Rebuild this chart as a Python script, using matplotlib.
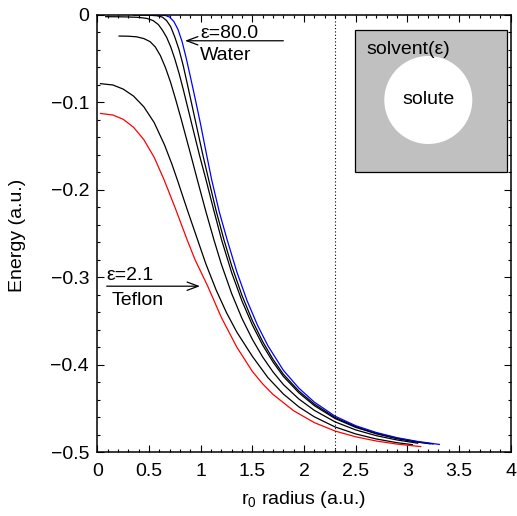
import matplotlib
matplotlib.use("Agg")
import matplotlib.pyplot as plt
from matplotlib.patches import Rectangle, Ellipse
from matplotlib.ticker import MultipleLocator

plt.rcParams['font.family'] = ['Liberation Sans', 'DejaVu Sans']
plt.rcParams['mathtext.fontset'] = 'custom'
plt.rcParams['mathtext.rm'] = 'Liberation Sans'
plt.rcParams['mathtext.it'] = 'Liberation Sans:italic'

# ---- data ----
red_x = [0.03, 0.15, 0.25, 0.35, 0.45, 0.55, 0.645, 0.75, 0.87, 0.945, 1.068, 1.2, 1.35, 1.5, 1.6, 1.7, 1.9, 2.1, 2.3, 2.5, 2.7, 2.9, 3.13]
red_y = [-0.113, -0.1148, -0.1197, -0.1288, -0.143, -0.1632, -0.1886, -0.220, -0.2577, -0.280, -0.3103, -0.346, -0.380, -0.4076, -0.4219, -0.4339, -0.4526, -0.4661, -0.4757, -0.4823, -0.4871, -0.4906, -0.4935]

a_x = [0.03, 0.15, 0.25, 0.35, 0.45, 0.55, 0.65, 0.72, 0.773, 0.87, 0.971, 1.05, 1.15, 1.25, 1.35, 1.5, 1.65, 1.8, 1.95, 2.1, 2.3, 2.5, 2.7, 2.9, 3.05]
a_y = [-0.079, -0.0805, -0.0852, -0.0932, -0.1055, -0.1235, -0.149, -0.1705, -0.1886, -0.223, -0.2577, -0.2848, -0.3148, -0.3406, -0.3628, -0.3904, -0.4146, -0.4334, -0.4481, -0.4595, -0.471, -0.479, -0.4848, -0.489, -0.4913]

b_x = [0.21, 0.3, 0.38, 0.45, 0.51, 0.56, 0.61, 0.66, 0.71, 0.76, 0.81, 0.86, 0.91, 0.967, 1.05, 1.129, 1.2, 1.3, 1.4, 1.5, 1.6, 1.7, 1.8, 1.95, 2.1, 2.3, 2.5, 2.7, 2.9, 3.1]
b_y = [-0.0246, -0.0248, -0.0255, -0.0275, -0.031, -0.037, -0.047, -0.061, -0.078, -0.098, -0.119, -0.141, -0.163, -0.1886, -0.225, -0.2577, -0.2852, -0.3188, -0.3472, -0.371, -0.3912, -0.4082, -0.4226, -0.4391, -0.4521, -0.4652, -0.4744, -0.481, -0.4859, -0.4896]

c_x = [0.08, 0.2, 0.3, 0.4, 0.48, 0.54, 0.59, 0.63, 0.67, 0.71, 0.75, 0.79, 0.83, 0.88, 0.93, 0.99, 1.051, 1.125, 1.203, 1.3, 1.4, 1.5, 1.6, 1.7, 1.8, 1.95, 2.1, 2.3, 2.5, 2.7, 2.9, 3.1, 3.22]
c_y = [-0.0025, -0.0026, -0.0028, -0.0033, -0.0045, -0.007, -0.0115, -0.018, -0.026, -0.037, -0.051, -0.067, -0.085, -0.109, -0.133, -0.1615, -0.1886, -0.2228, -0.2577, -0.2949, -0.3273, -0.3546, -0.3776, -0.3969, -0.4133, -0.432, -0.4467, -0.4614, -0.4715, -0.4789, -0.4844, -0.4884, -0.4903]

d_x = [0.35, 0.5, 0.58, 0.63, 0.67, 0.71, 0.75, 0.79, 0.83, 0.87, 0.92, 0.97, 1.02, 1.077, 1.15, 1.226, 1.3, 1.4, 1.5, 1.6, 1.7, 1.8, 1.95, 2.1, 2.3, 2.5, 2.7, 2.9, 3.1, 3.25]
d_y = [-0.0006, -0.0008, -0.0015, -0.003, -0.007, -0.014, -0.026, -0.040, -0.058, -0.079, -0.106, -0.133, -0.160, -0.1886, -0.2245, -0.2577, -0.287, -0.321, -0.3496, -0.3736, -0.3938, -0.4108, -0.430, -0.445, -0.4602, -0.4707, -0.4783, -0.4839, -0.4881, -0.4905]

blue_x = [0.5, 0.6, 0.66, 0.70, 0.74, 0.78, 0.82, 0.86, 0.90, 0.95, 1.0, 1.05, 1.106, 1.18, 1.257, 1.35, 1.45, 1.55, 1.65, 1.8, 1.95, 2.1, 2.3, 2.5, 2.7, 2.9, 3.1, 3.31]
blue_y = [-0.0002, -0.0005, -0.0012, -0.003, -0.008, -0.017, -0.031, -0.050, -0.071, -0.098, -0.126, -0.156, -0.1886, -0.2255, -0.2577, -0.294, -0.3272, -0.3549, -0.3782, -0.4063, -0.4267, -0.4427, -0.4587, -0.4696, -0.4774, -0.4833, -0.4876, -0.4910]

black_curves = [(a_x, a_y), (b_x, b_y), (c_x, c_y), (d_x, d_y)]

x_ticks = [0, 0.5, 1, 1.5, 2, 2.5, 3, 3.5, 4]
x_tick_labels = ['0', '0.5', '1', '1.5', '2', '2.5', '3', '3.5', '4']
y_ticks = [0, -0.1, -0.2, -0.3, -0.4, -0.5]
y_tick_labels = ['0', '\u22120.1', '\u22120.2', '\u22120.3', '\u22120.4', '\u22120.5']

r_cut = 2.3

# ---- figure ----
W, H = 517, 516
fig = plt.figure(figsize=(W / 100, H / 100), dpi=100)
L, R, T, B = 97.4, 510.6, 14.5, 452.3
ax = fig.add_axes([L / W, 1 - B / H, (R - L) / W, (B - T) / H])

fs = 14
for (xx, yy) in black_curves:
    ax.plot(xx, yy, color='black', lw=0.9)
ax.plot(red_x, red_y, color='#ff0000', lw=0.9)
ax.plot(blue_x, blue_y, color='#0000ff', lw=0.9)

ax.axvline(r_cut, color='black', lw=0.8, linestyle=(0, (1, 2)))

ax.set_xlim(0, 4)
ax.set_ylim(-0.5, 0)
ax.set_xticks(x_ticks)
ax.set_xticklabels(x_tick_labels)
ax.set_yticks(y_ticks)
ax.set_yticklabels(y_tick_labels)
ax.xaxis.set_minor_locator(MultipleLocator(0.1))
ax.yaxis.set_minor_locator(MultipleLocator(0.02))
ax.tick_params(which='both', direction='in', top=True, right=True, width=0.8, labelsize=fs)
ax.tick_params(which='major', length=5)
ax.tick_params(which='minor', length=2.5)
ax.tick_params(axis='x', pad=7.5)
ax.tick_params(axis='y', pad=6)
for s in ax.spines.values():
    s.set_linewidth(1.1)

fig.text(304 / W, 1 - 499 / H, r'r$_{\mathrm{0}}$ radius (a.u.)', ha='center', va='center', fontsize=fs)
fig.text(18 / W, 1 - 235 / H, 'Energy (a.u.)', ha='center', va='center', rotation=90, fontsize=fs)

# annotations
arrow_kw = dict(arrowstyle='->,head_length=0.8,head_width=0.3', lw=0.9, color='black',
                shrinkA=0, shrinkB=0)
ax.annotate('', xy=(0.848, -0.030), xytext=(1.80, -0.030), arrowprops=arrow_kw)
ax.text(0.993, -0.0272, 'ε=80.0', fontsize=fs, ha='left', va='baseline')
ax.text(0.993, -0.052, 'Water', fontsize=fs, ha='left', va='baseline')

ax.annotate('', xy=(0.993, -0.3103), xytext=(0.09, -0.3103), arrowprops=arrow_kw)
ax.text(0.09, -0.3034, 'ε=2.1', fontsize=fs, ha='left', va='baseline')
ax.text(0.138, -0.332, 'Teflon', fontsize=fs, ha='left', va='baseline')

# inset schematic
aw, ah = R - L, B - T
bx0 = (355 - L) / aw
bx1 = (506.7 - L) / aw
by1 = 1 - (30 - T) / ah
by0 = 1 - (171.7 - T) / ah
ax.add_patch(Rectangle((bx0, by0), bx1 - bx0, by1 - by0, transform=ax.transAxes,
                       facecolor='#c0c0c0', edgecolor='black', lw=0.9, zorder=5))
cx = (428.3 - L) / aw
cy = 1 - (100 - T) / ah
ax.add_patch(Ellipse((cx, cy), 88 / aw, 88 / ah, transform=ax.transAxes,
                     facecolor='white', edgecolor='none', zorder=6))
ax.text((366.7 - L) / aw, 1 - (53.5 - T) / ah, 'solvent(ε)', transform=ax.transAxes,
        fontsize=fs, ha='left', va='baseline', zorder=7)
ax.text(cx, cy, 'solute', transform=ax.transAxes, fontsize=fs, ha='center', va='center', zorder=7)

fig.savefig('out.png', dpi=100)
